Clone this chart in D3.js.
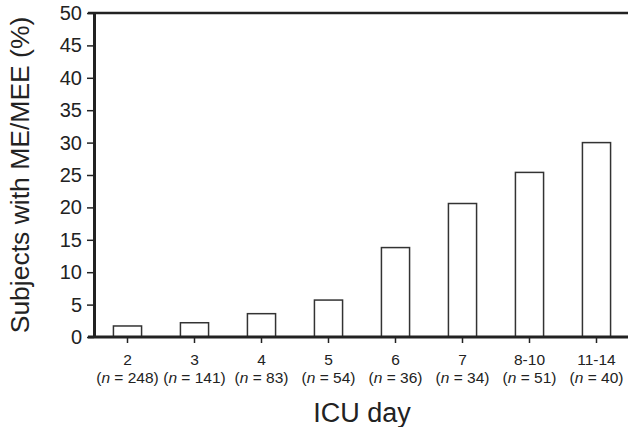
<!DOCTYPE html>
<html lang="en">
<meta charset="UTF-8">
<title>ME/MEE by ICU day</title>
<style>
body {margin:0; background:#fff}
svg text {font-family: "Liberation Sans", Arial, sans-serif; fill:#222}
</style>
<body>
<div id="chart"></div>
<script src="https://d3js.org/d3.v7.min.js"></script>
<script>
// data
var days = ["2", "3", "4", "5", "6", "7", "8-10", "11-14"];
var counts = [248, 141, 83, 54, 36, 34, 51, 40];
var percents = [1.7, 2.2, 3.6, 5.7, 13.8, 20.6, 25.4, 30.0];
var yTicks = [0, 5, 10, 15, 20, 25, 30, 35, 40, 45, 50];

var W = 628, H = 427;
var margin = {top: 13, right: -2, bottom: 90, left: 94},
    width = W - margin.left - margin.right,
    height = H - margin.top - margin.bottom;

var svg = d3.select("#chart").append("svg")
    .attr("width", W)
    .attr("height", H)
  .append("g")
    .attr("transform", "translate(" + margin.left + "," + margin.top + ")");

var x = d3.scaleBand()
    .domain(days)
    .range([0, width])
    .paddingInner(0.58)
    .paddingOuter(0.29);

var y = d3.scaleLinear()
    .domain([0, 50])
    .range([height, 0]);

// top border line
svg.append("line")
    .attr("x1", -6).attr("x2", width)
    .attr("y1", y(50)).attr("y2", y(50))
    .attr("stroke", "#222").attr("stroke-width", 2.5);

// bars
svg.selectAll("rect.bar")
  .data(days)
  .enter().append("rect")
    .attr("class", "bar")
    .attr("x", function(d){ return x(d); })
    .attr("y", function(d, i){ return y(percents[i]); })
    .attr("width", x.bandwidth())
    .attr("height", function(d, i){ return y(0) - y(percents[i]); })
    .attr("fill", "#fff")
    .attr("stroke", "#333")
    .attr("stroke-width", 1.5);

// y axis
var yAxis = svg.append("g")
    .call(d3.axisLeft(y).tickValues(yTicks).tickSize(7).tickPadding(5).tickSizeOuter(0));
yAxis.select(".domain").attr("stroke", "#222").attr("stroke-width", 3);
yAxis.selectAll(".tick line").attr("stroke", "#222").attr("stroke-width", 1.5);
yAxis.selectAll(".tick text").style("font-size", "20px").attr("fill", "#222");

// x axis
var xAxis = svg.append("g")
    .attr("transform", "translate(0," + height + ")")
    .call(d3.axisBottom(x).tickSize(6).tickSizeOuter(0).tickFormat(""));
xAxis.select(".domain").attr("stroke", "#222").attr("stroke-width", 3)
    .attr("d", "M-6,0H" + width);
xAxis.selectAll(".tick line").attr("stroke", "#222").attr("stroke-width", 1.5);

// two-line x labels
var lab = xAxis.selectAll(".tick").append("text")
    .attr("text-anchor", "middle")
    .style("font-size", "15.5px");
lab.append("tspan")
    .attr("x", 0).attr("y", 28)
    .text(function(d){ return d; });
var nl = lab.append("tspan")
    .attr("x", 0).attr("y", 46);
nl.append("tspan").text("(");
nl.append("tspan").style("font-style", "italic").text("n");
nl.append("tspan").text(function(d){ return " = " + counts[days.indexOf(d)] + ")"; });

// axis titles
svg.append("text")
    .attr("x", width / 2)
    .attr("y", height + 85)
    .attr("text-anchor", "middle")
    .style("font-size", "27px")
    .text("ICU day");

svg.append("text")
    .attr("transform", "rotate(-90)")
    .attr("x", -height / 2)
    .attr("y", -margin.left + 29)
    .attr("text-anchor", "middle")
    .style("font-size", "26.5px")
    .text("Subjects with ME/MEE (%)");
</script>
</body>
</html>
